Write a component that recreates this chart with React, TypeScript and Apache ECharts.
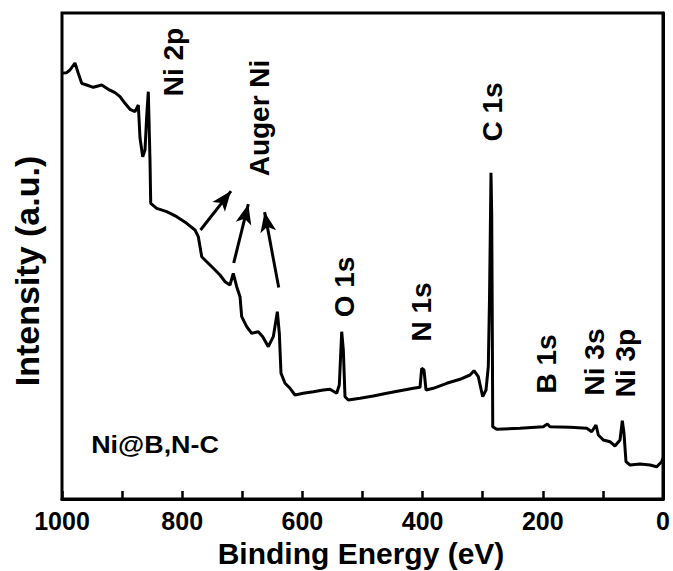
import React, { useEffect, useRef } from "react";
import * as echarts from "echarts";

// XPS survey spectrum of Ni@B,N-C: binding energy (eV) and intensity (a.u.)
const bindingEnergy = [
  1000, 992.2, 986.7, 978.4, 972.9, 967.2, 958.9, 947.9, 933.9, 923.0, 911.8, 903.5,
  895.2, 886.9, 878.5, 873.0, 870.2, 865.7, 861.9, 859.1, 856.4, 853.6, 852.4, 842.4,
  825.8, 809.1, 792.5, 778.7, 773.2, 767.5, 759.2, 748.2, 737.1, 728.8, 720.5, 715.0,
  709.3, 703.8, 701.0, 692.7, 684.3, 673.4, 666.0, 656.7, 648.4, 641.7, 638.4, 635.6,
  628.9, 620.6, 612.3, 598.5, 581.8, 565.2, 554.1, 542.9, 538.6, 534.6, 531.9, 529.1,
  523.6, 504.1, 482.0, 459.7, 437.6, 415.4, 404.3, 401.5, 397.7, 394.3, 382.2, 359.9,
  337.8, 321.1, 314.5, 307.3, 300.0, 294.5, 290.7, 288.7, 287.3, 286.2, 285.0, 284.0,
  283.3, 276.7, 237.9, 199.1, 192.5, 188.0, 154.7, 126.9, 118.6, 111.5, 107.6, 99.3,
  88.2, 79.9, 71.5, 67.7, 64.9, 61.6, 54.9, 38.3, 21.6, 10.4, 2.2, 0,
];

const intensity = [
  426, 426.3, 429, 436, 425.7, 415.7, 414, 411.7, 414, 409.7, 406.3, 402.3,
  395.7, 389.7, 387.3, 394, 361, 342.3, 349, 382.3, 407.3, 339, 295.7, 290.7,
  287.3, 282.3, 275.7, 269, 262.3, 242.3, 237.3, 230.7, 224, 217.3, 214, 225.7,
  212.3, 202.3, 182.3, 172.3, 165.7, 167.3, 162.3, 152.3, 162.3, 187.3, 165.7, 125.7,
  115.7, 110.7, 104, 105.7, 107.3, 109, 109.7, 105.7, 114, 167.3, 149, 102.3,
  99, 100.7, 103, 105.7, 108.3, 110.7, 111.7, 130.7, 129, 109, 110.7, 115.7,
  119.7, 124, 128.3, 122.3, 102.3, 109, 132.3, 199, 269, 326.3, 284, 169,
  72.3, 69.7, 70.7, 72.3, 75, 72.3, 71.7, 70.7, 67.3, 74, 64, 59,
  57.3, 53, 59, 78.3, 65.7, 37.3, 34, 35, 34, 32.3, 37.3, 41,
];

// Auger Ni arrows: [tail energy, tail intensity, head energy, head intensity]
const augerArrows = [
  [769.5, 269, 718.8, 307.9],
  [714.3, 236, 690.0, 294.8],
  [639.4, 211.5, 662.9, 286.9],
];

const peakLabels = ["Ni 2p", "Auger Ni", "C 1s", "O 1s", "N 1s", "B 1s", "Ni 3s", "Ni 3p"];
const sampleName = "Ni@B,N-C";
const xTitle = "Binding Energy (eV)";
const yTitle = "Intensity (a.u.)";

const FONT = "'Liberation Sans', Arial, sans-serif";

// label anchor points (pixel centres) for the rotated peak labels
const peakLabelPos: [number, number][] = [
  [173, 62],
  [259, 118],
  [492, 112],
  [344, 287],
  [421, 312],
  [546, 364],
  [594, 362],
  [625, 363],
];

export default function App() {
  const ref = useRef<HTMLDivElement>(null);

  useEffect(() => {
    if (!ref.current) return;
    const chart = echarts.init(ref.current, null, { renderer: "svg" });

    const spectrum = bindingEnergy.map((e, i) => [e, intensity[i]]);

    const rotatedLabels = peakLabels.map((t, i) => ({
      type: "text",
      x: peakLabelPos[i][0],
      y: peakLabelPos[i][1],
      rotation: Math.PI / 2,
      style: {
        text: t,
        fontFamily: FONT,
        fontWeight: "bold",
        fontSize: 28,
        fill: "#000",
        textAlign: "center",
        textVerticalAlign: "middle",
      },
    }));

    chart.setOption({
      animation: false,
      backgroundColor: "#fff",
      grid: {
        left: 62,
        right: 10,
        top: 13,
        bottom: 72,
        show: true,
        borderColor: "#000",
        borderWidth: 3,
      },
      xAxis: {
        type: "value",
        min: 0,
        max: 1000,
        interval: 100,
        inverse: true,
        axisLine: { show: true, lineStyle: { color: "#000", width: 3 } },
        axisTick: { show: true, inside: true, length: 8, lineStyle: { color: "#000", width: 2.5 } },
        axisLabel: {
          color: "#000",
          fontFamily: FONT,
          fontWeight: "bold",
          fontSize: 25,
          margin: 9,
          formatter: (v: number) => (v % 200 === 0 ? String(v) : ""),
        },
        splitLine: { show: false },
      },
      yAxis: {
        type: "value",
        min: 0,
        max: 486,
        axisLine: { show: true, lineStyle: { color: "#000", width: 3 } },
        axisTick: { show: false },
        axisLabel: { show: false },
        splitLine: { show: false },
      },
      series: [
        {
          type: "line",
          data: spectrum,
          showSymbol: false,
          symbol: "none",
          lineStyle: { color: "#000", width: 3 },
          silent: true,
          markLine: {
            silent: true,
            symbol: ["none", "arrow"],
            symbolSize: [12, 20],
            label: { show: false },
            lineStyle: { color: "#000", width: 3, type: "solid" },
            data: augerArrows.map((a) => [{ coord: [a[0], a[1]] }, { coord: [a[2], a[3]] }]),
          },
        },
      ],
      graphic: [
        ...rotatedLabels,
        {
          type: "text",
          x: 155,
          y: 445,
          scaleX: 1.12,
          style: {
            text: sampleName,
            fontFamily: FONT,
            fontWeight: "bold",
            fontSize: 24,
            fill: "#000",
            textAlign: "center",
            textVerticalAlign: "middle",
          },
        },
        {
          type: "text",
          x: 361,
          y: 553,
          style: {
            text: xTitle,
            fontFamily: FONT,
            fontWeight: "bold",
            fontSize: 30,
            fill: "#000",
            textAlign: "center",
            textVerticalAlign: "middle",
          },
        },
        {
          type: "text",
          x: 27,
          y: 271,
          rotation: Math.PI / 2,
          style: {
            text: yTitle,
            fontFamily: FONT,
            fontWeight: "bold",
            fontSize: 34,
            fill: "#000",
            textAlign: "center",
            textVerticalAlign: "middle",
          },
        },
      ],
    });

    return () => chart.dispose();
  }, []);

  return (
    <div
      ref={ref}
      style={{ position: "fixed", left: 0, top: 0, width: 673, height: 571, background: "#fff" }}
    />
  );
}
